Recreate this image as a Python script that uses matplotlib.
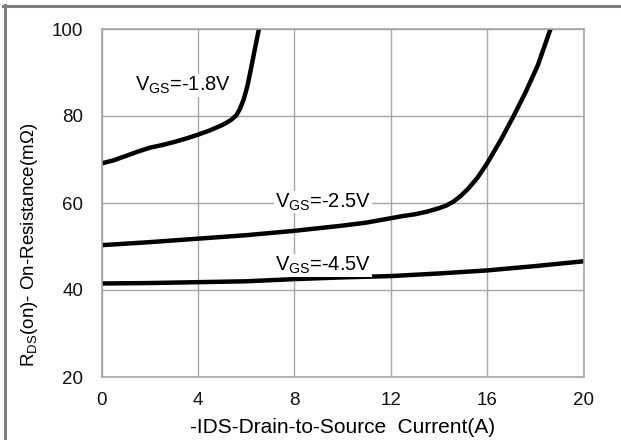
import matplotlib
matplotlib.use('Agg')
import matplotlib.pyplot as plt
from matplotlib.lines import Line2D

plt.rcParams['font.family'] = ['Liberation Sans', 'DejaVu Sans']
plt.rcParams['mathtext.fontset'] = 'custom'
plt.rcParams['mathtext.rm'] = 'Liberation Sans'

# VGS = -1.8V
i18 = [0, 0.5, 1, 1.5, 2, 2.5, 3, 3.5, 4, 4.5, 5, 5.2, 5.4, 5.6, 5.75, 5.9, 6.05, 6.2, 6.35, 6.55]
r18 = [69.1, 69.8, 70.8, 71.8, 72.7, 73.3, 74.0, 74.8, 75.7, 76.7, 77.9, 78.5, 79.2, 80.2, 81.7,
       83.8, 86.8, 90.8, 95.0, 100.5]

# VGS = -2.5V
i25 = [0, 2, 4, 6, 8, 10, 11, 12, 12.5, 13.0, 13.5, 14.0, 14.3, 14.6, 14.9, 15.2, 15.6, 16.0,
       16.6, 17.1, 17.6, 18.1, 18.65]
r25 = [50.3, 51.0, 51.8, 52.6, 53.6, 54.8, 55.5, 56.5, 57.0, 57.4, 58.0, 58.8, 59.4, 60.3, 61.6,
       63.2, 65.8, 69.1, 74.8, 80.0, 85.5, 91.6, 100.3]

# VGS = -4.5V
i45 = [0, 2, 4, 6, 8, 10, 12, 14, 16, 18, 20]
r45 = [41.5, 41.6, 41.8, 42.0, 42.5, 42.9, 43.2, 43.8, 44.5, 45.5, 46.6]

xticks = [0, 4, 8, 12, 16, 20]
yticks = [20, 40, 60, 80, 100]

fig = plt.figure(figsize=(6.21, 4.40), dpi=100)
ax = fig.add_axes([101.5/621, 63/440, 482/621, 348/440])

for xs, ys in [(i18, r18), (i25, r25), (i45, r45)]:
    ax.plot(xs, ys, color='black', lw=3.2, solid_capstyle='round', solid_joinstyle='round')

ax.set_xlim(0, 20)
ax.set_ylim(20, 100)
ax.set_xticks(xticks)
ax.set_yticks(yticks)
ax.tick_params(length=0, labelsize=13.5, colors='#111111')
ax.tick_params(axis='y', pad=13)
ax.tick_params(axis='x', pad=11)
ax.grid(True, color='#a6a6a6', lw=1)
ax.set_axisbelow(True)
for s in ax.spines.values():
    s.set_color('#a6a6a6')
    s.set_linewidth(1.2)

box = dict(facecolor='white', edgecolor='none', pad=0.5)
ax.text(1.4, 87, r'V$_{\mathregular{GS}}$=-1.8V', fontsize=14.5, va='center', bbox=box)
ax.text(7.2, 60.2, r'V$_{\mathregular{GS}}$=-2.5V', fontsize=14.5, va='center', bbox=box)
ax.text(7.2, 45.6, r'V$_{\mathregular{GS}}$=-4.5V', fontsize=14.5, va='center', bbox=box)

ax.set_xlabel('-IDS-Drain-to-Source  Current(A)', fontsize=15, labelpad=6)
fig.text(30/621, 195/440, r'R$_{\mathregular{DS}}$(on)- On-Resistance(m$\Omega$)',
         rotation=90, fontsize=13.5, ha='center', va='center')

# outer frame (top and left only)
fig.add_artist(Line2D([3/621, 1], [1 - 6.5/440, 1 - 6.5/440], color='#808080', lw=2.2))
fig.add_artist(Line2D([4.5/621, 4.5/621], [0, 1 - 5/440], color='#808080', lw=2.2))

fig.savefig('out.png', dpi=100)
